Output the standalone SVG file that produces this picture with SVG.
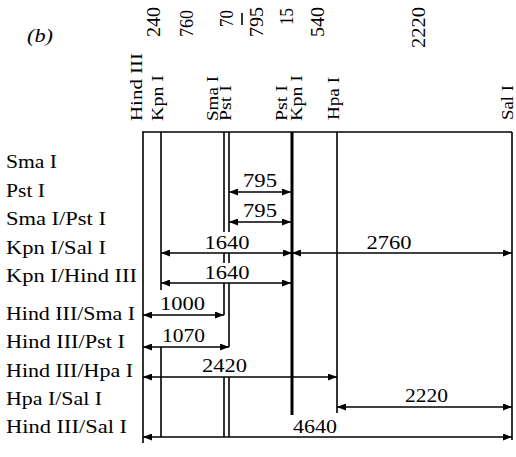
<svg xmlns="http://www.w3.org/2000/svg" width="516" height="457" viewBox="0 0 516 457">
<style>
text{font-family:"Liberation Serif","Times New Roman",serif;fill:#000}
.row{font-size:18px}
.enz{font-size:16.5px}
.num{font-size:19.5px}
.len{font-size:19.5px;text-anchor:middle}
.ln{stroke:#000;stroke-width:1.6;fill:none}
.thick{stroke:#000;stroke-width:3;fill:none}
.arr{stroke:#000;stroke-width:1.6;fill:none;marker-start:url(#ah);marker-end:url(#ah)}
</style>
<defs>
<marker id="ah" viewBox="0 0 9 7" refX="9" refY="3.5" markerWidth="9" markerHeight="7" markerUnits="userSpaceOnUse" orient="auto-start-reverse">
<path d="M0,0 L9,3.5 L0,7 z" fill="#000"/>
</marker>
</defs>
<rect width="516" height="457" fill="#fff"/>
<text x="27" y="42" font-size="18" font-style="italic" textLength="26" lengthAdjust="spacingAndGlyphs">(b)</text>

<g id="fragment-sizes">
<text class="num" transform="translate(160,37) rotate(-90)" textLength="30" lengthAdjust="spacingAndGlyphs">240</text>
<text class="num" transform="translate(193,37) rotate(-90)" textLength="27" lengthAdjust="spacingAndGlyphs">760</text>
<text class="num" transform="translate(233,27) rotate(-90)" textLength="17" lengthAdjust="spacingAndGlyphs">70</text>
<line class="ln" x1="242" y1="13" x2="242" y2="25"/>
<text class="num" transform="translate(263,37) rotate(-90)" textLength="30" lengthAdjust="spacingAndGlyphs">795</text>
<text class="num" transform="translate(293,25) rotate(-90)" textLength="17" lengthAdjust="spacingAndGlyphs">15</text>
<text class="num" transform="translate(324,37) rotate(-90)" textLength="30" lengthAdjust="spacingAndGlyphs">540</text>
<text class="num" transform="translate(425,48) rotate(-90)" textLength="41" lengthAdjust="spacingAndGlyphs">2220</text>
</g>

<g id="site-labels">
<text class="enz" transform="translate(142,121) rotate(-90)" textLength="68" lengthAdjust="spacingAndGlyphs">Hind III</text>
<text class="enz" transform="translate(163,121) rotate(-90)" textLength="46" lengthAdjust="spacingAndGlyphs">Kpn I</text>
<text class="enz" transform="translate(218,121) rotate(-90)" textLength="45" lengthAdjust="spacingAndGlyphs">Sma I</text>
<text class="enz" transform="translate(231,121) rotate(-90)" textLength="36" lengthAdjust="spacingAndGlyphs">Pst I</text>
<text class="enz" transform="translate(287,121) rotate(-90)" textLength="36" lengthAdjust="spacingAndGlyphs">Pst I</text>
<text class="enz" transform="translate(302,121) rotate(-90)" textLength="46" lengthAdjust="spacingAndGlyphs">Kpn I</text>
<text class="enz" transform="translate(339,120) rotate(-90)" textLength="43" lengthAdjust="spacingAndGlyphs">Hpa I</text>
<text class="enz" transform="translate(513,120) rotate(-90)" textLength="35" lengthAdjust="spacingAndGlyphs">Sal I</text>
</g>

<g id="row-labels" class="row">
<text x="6" y="168" textLength="51" lengthAdjust="spacingAndGlyphs">Sma I</text>
<text x="6" y="197" textLength="39" lengthAdjust="spacingAndGlyphs">Pst I</text>
<text x="6" y="225" textLength="100" lengthAdjust="spacingAndGlyphs">Sma I/Pst I</text>
<text x="6" y="254" textLength="100" lengthAdjust="spacingAndGlyphs">Kpn I/Sal I</text>
<text x="6" y="282" textLength="131" lengthAdjust="spacingAndGlyphs">Kpn I/Hind III</text>
<text x="6" y="320" textLength="129" lengthAdjust="spacingAndGlyphs">Hind III/Sma I</text>
<text x="6" y="348" textLength="119" lengthAdjust="spacingAndGlyphs">Hind III/Pst I</text>
<text x="6" y="377" textLength="127" lengthAdjust="spacingAndGlyphs">Hind III/Hpa I</text>
<text x="6" y="405" textLength="96" lengthAdjust="spacingAndGlyphs">Hpa I/Sal I</text>
<text x="6" y="433" textLength="121" lengthAdjust="spacingAndGlyphs">Hind III/Sal I</text>
</g>

<g id="map-lines">
<line class="ln" x1="142" y1="132" x2="512" y2="132" stroke-width="2"/>
<line class="ln" x1="143" y1="132" x2="143" y2="443"/>
<line class="ln" x1="161" y1="132" x2="161" y2="290"/>
<line class="ln" x1="161" y1="347" x2="161" y2="437"/>
<line class="ln" x1="224" y1="132" x2="224" y2="232"/>
<line class="ln" x1="224" y1="253" x2="224" y2="263"/>
<line class="ln" x1="224" y1="283" x2="224" y2="315"/>
<line class="ln" x1="224" y1="377" x2="224" y2="437"/>
<line class="ln" x1="229" y1="132" x2="229" y2="232"/>
<line class="ln" x1="229" y1="253" x2="229" y2="263"/>
<line class="ln" x1="229" y1="283" x2="229" y2="347"/>
<line class="ln" x1="229" y1="377" x2="229" y2="437"/>
<line class="thick" x1="292" y1="132" x2="292" y2="415"/>
<line class="ln" x1="337" y1="132" x2="337" y2="413"/>
<line class="ln" x1="512" y1="132" x2="512" y2="440"/>
</g>

<g id="connectors">
<line class="arr" x1="229" y1="192" x2="291" y2="192"/>
<line class="arr" x1="229" y1="222" x2="291" y2="222"/>
<line class="arr" x1="161" y1="253" x2="292" y2="253"/>
<line class="arr" x1="292" y1="253" x2="512" y2="253"/>
<line class="arr" x1="161" y1="283" x2="291" y2="283"/>
<line class="arr" x1="143" y1="315" x2="224" y2="315"/>
<line class="arr" x1="143" y1="347" x2="229" y2="347"/>
<line class="arr" x1="143" y1="377" x2="337" y2="377"/>
<line class="arr" x1="337" y1="407" x2="512" y2="407"/>
<line class="arr" x1="143" y1="437" x2="512" y2="437"/>
</g>

<g id="connector-labels">
<text class="len" x="260" y="187" textLength="34" lengthAdjust="spacingAndGlyphs">795</text>
<text class="len" x="260" y="217" textLength="34" lengthAdjust="spacingAndGlyphs">795</text>
<text class="len" x="227" y="249" textLength="45" lengthAdjust="spacingAndGlyphs">1640</text>
<text class="len" x="389" y="249" textLength="45" lengthAdjust="spacingAndGlyphs">2760</text>
<text class="len" x="227" y="279" textLength="45" lengthAdjust="spacingAndGlyphs">1640</text>
<text class="len" x="182.5" y="310" textLength="45" lengthAdjust="spacingAndGlyphs">1000</text>
<text class="len" x="183.5" y="342" textLength="43" lengthAdjust="spacingAndGlyphs">1070</text>
<text class="len" x="224.5" y="372" textLength="45" lengthAdjust="spacingAndGlyphs">2420</text>
<text class="len" x="426.5" y="402" textLength="43" lengthAdjust="spacingAndGlyphs">2220</text>
<text class="len" x="315" y="433" textLength="44" lengthAdjust="spacingAndGlyphs">4640</text>
</g>
</svg>
